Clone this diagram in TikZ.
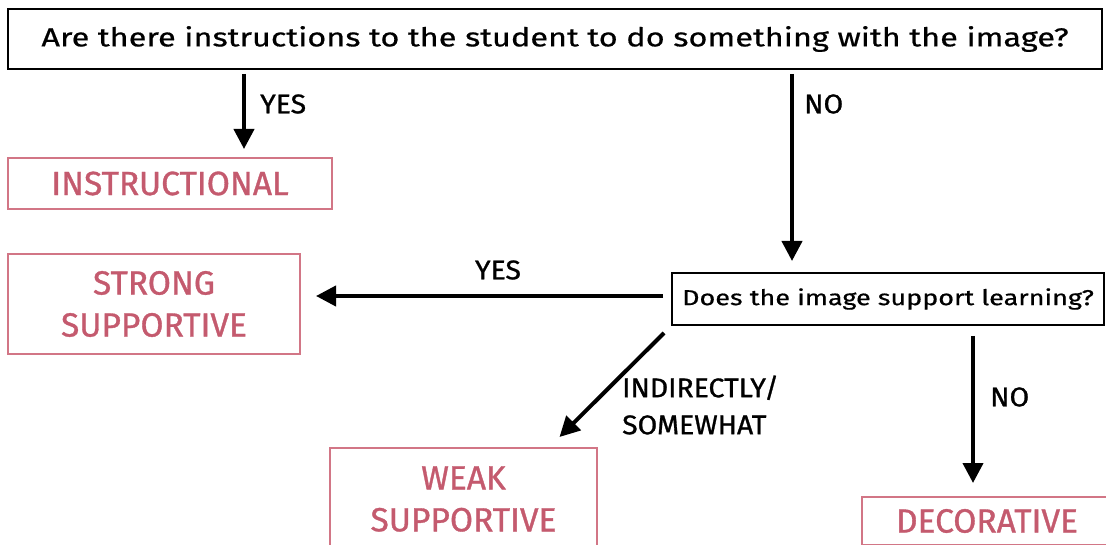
\documentclass[tikz,border=0pt]{standalone}
\usepackage{fontspec}
\setmainfont[FakeStretch=1.25, FakeBold=0.6]{Fira Sans}
\newfontfamily\typefont[FakeBold=1.0]{Fira Sans}
\newfontfamily\answerfont[FakeStretch=1.05, FakeBold=1.0]{Fira Sans}
\usepackage{tikz}
\usetikzlibrary{arrows.meta,positioning}
\definecolor{typepink}{RGB}{196, 90, 110}
\definecolor{typeborder}{RGB}{210, 118, 134}

\begin{document}
\begin{tikzpicture}[x=1pt, y=-1pt,
  question/.style={draw=black, line width=2pt, inner sep=0pt, font=\fontsize{26}{30}\selectfont},
  category/.style={draw=typeborder, line width=2pt, inner sep=0pt, align=center, text=typepink, font=\typefont\fontsize{33.5}{42}\selectfont},
  flow/.style={-{Triangle[length=20pt, width=20pt]}, line width=4pt},
  answer/.style={font=\answerfont\fontsize{27}{37}\selectfont, inner sep=0pt, align=left}
]
\useasboundingbox (0,0) rectangle (1106,545);

% Questions
\node[question, minimum width=1094, minimum height=60] (q1) at (555,39) {Are there instructions to the student to do something with the image?};
\node[question, minimum width=432, minimum height=52, font=\fontsize{21.6}{26}\selectfont] (q2) at (888,299) {Does the image support learning?};

% Image types
\node[category, minimum width=324, minimum height=51] (instr) at (170,183.5) {INSTRUCTIONAL};
\node[category, minimum width=292, minimum height=100] (strong) at (154,304) {STRONG\\SUPPORTIVE};
\node[category, minimum width=267, minimum height=102] (weak) at (463.5,499) {WEAK\\SUPPORTIVE};
\node[category, minimum width=250, minimum height=48] (deco) at (987,521) {DECORATIVE};

% Connections
\coordinate (yesx) at (244,0);
\coordinate (nox) at (792,0);
\coordinate (nox2) at (973,0);
\draw[flow, shorten <=4pt, shorten >=8pt] (q1.south -| yesx) -- (instr.north -| yesx);
\draw[flow, shorten <=4pt, shorten >=11pt] (q1.south -| nox) -- (q2.north -| nox);
\draw[flow, shorten <=8pt, shorten >=15pt] (q2.west |- 0,296) -- (strong.east |- 0,296);
\draw[flow] ([shift={(-7,7)}]q2.south west) -- ([shift={(96,-10)}]weak.north);
\draw[flow, shorten <=10pt, shorten >=13pt] (q2.south -| nox2) -- (deco.north -| nox2);

% Answers
\node[answer, right=16pt of q1.south -| yesx, yshift=-34pt] (ayes) {YES};
\node[answer, right=12pt of q1.south -| nox, yshift=-34pt] (ano) {NO};
\node[answer] (ayes2) at (498,270) {YES};
\node[answer, anchor=west] (asome) at (622,405) {INDIRECTLY/\\SOMEWHAT};
\node[answer, anchor=west] (ano2) at (990,397) {NO};

\end{tikzpicture}
\end{document}
